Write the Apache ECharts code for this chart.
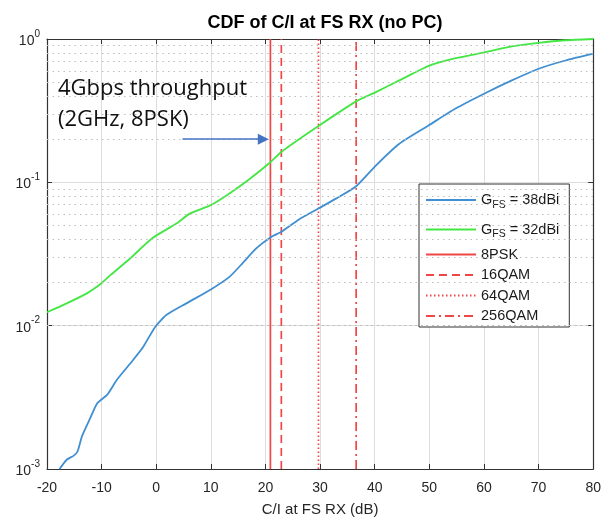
<!DOCTYPE html>
<html>
<head>
<meta charset="utf-8">
<script src="https://cdn.jsdelivr.net/npm/echarts@6/dist/echarts.min.js"></script>
<style>
  html, body { margin: 0; padding: 0; background: #ffffff; }
  #chart { width: 604px; height: 522px; }
</style>
</head>
<body>
<div id="chart"></div>
<script>
// C/I (dB) sample points and CDF values, FS antenna gain 38 dBi
const ci38 = [-17.7, -16.4, -15.1, -14.4, -13.6, -12.1, -10.8, -9.0, -7.2, -4.5, -2.4, -0.2, 1.9, 5.5, 10, 13.4, 15.5, 18.3, 20.9, 22.9, 26.2, 29.7, 32.9, 36.6, 40.2, 44.5, 49.9, 54.8, 60.3, 65.1, 70, 74.9, 80];
const cdf38 = [0.001, 0.00116, 0.00124, 0.00133, 0.00169, 0.00226, 0.00288, 0.00329, 0.00419, 0.0056, 0.0071, 0.0098, 0.0119, 0.0143, 0.0179, 0.0219, 0.0265, 0.0346, 0.0413, 0.0452, 0.0553, 0.0657, 0.077, 0.094, 0.131, 0.186, 0.25, 0.327, 0.42, 0.514, 0.62, 0.708, 0.79];

// C/I (dB) sample points and CDF values, FS antenna gain 32 dBi
const ci32 = [-20, -16.4, -12.7, -10.1, -8.4, -4.8, -0.8, 3.7, 6.2, 10, 13.4, 16.8, 20.9, 22.9, 29.7, 36.6, 40.2, 44.5, 49.9, 54.8, 60.3, 65.1, 70, 74.9, 80];
const cdf32 = [0.0124, 0.0143, 0.0168, 0.0197, 0.0225, 0.0294, 0.0406, 0.0516, 0.0607, 0.0693, 0.0836, 0.1034, 0.138, 0.163, 0.247, 0.367, 0.426, 0.514, 0.65, 0.735, 0.81, 0.887, 0.94, 0.98, 1.0];

// Required C/I per modulation (dB)
const modNames = ['8PSK', '16QAM', '64QAM', '256QAM'];
const modThresholds = [20.9, 22.9, 29.7, 36.6];

// Axis ranges
const xRange = [-20, 80];
const xStep = 10;
const yDecades = [0.001, 0.01, 0.1, 1];

const curveNames = ['G_FS = 38dBi', 'G_FS = 32dBi'];

const zip = (xs, ys) => xs.map((x, i) => [x, ys[i]]);

// dotted minor grid at 2..9 x 10^k
const minorGrid = [];
for (let i = 0; i < yDecades.length - 1; i++) {
  for (let m = 2; m <= 9; m++) minorGrid.push({ yAxis: m * yDecades[i] });
}

const dashStyles = ['solid', [8, 5], [1.5, 2.5], [9, 4, 2, 4]];
const red = '#ef4646';
const axisColor = '#333333';
const labelColor = '#262626';
const font = 'Liberation Sans, Arial, sans-serif';

const chart = echarts.init(document.getElementById('chart'), null, { renderer: 'canvas' });

const modSeries = modNames.map((name, i) => ({
  name: name,
  type: 'line',
  data: [[modThresholds[i], yDecades[0]], [modThresholds[i], yDecades[yDecades.length - 1]]],
  symbol: 'none',
  showSymbol: false,
  lineStyle: { color: red, width: 1.7, type: dashStyles[i] },
  itemStyle: { color: red },
  z: 3
}));

const yAxisBase = {
  type: 'log',
  logBase: 10,
  min: yDecades[0],
  max: yDecades[yDecades.length - 1],
  axisLine: { show: true, onZero: false, lineStyle: { color: axisColor, width: 1.2 } },
  axisTick: { show: true, inside: true, length: 5, lineStyle: { color: axisColor } },
  minorTick: { show: false },
  splitLine: { show: false }
};

const xAxisBase = {
  type: 'value',
  min: xRange[0],
  max: xRange[1],
  interval: xStep,
  axisLine: { show: true, onZero: false, lineStyle: { color: axisColor, width: 1.2 } },
  axisTick: { show: true, inside: true, length: 5, lineStyle: { color: axisColor } }
};

chart.setOption({
  animation: false,
  backgroundColor: '#ffffff',
  title: {
    text: 'CDF of C/I at FS RX (no PC)',
    left: 320,
    textAlign: 'center',
    top: 9,
    textStyle: { fontFamily: font, fontSize: 18, fontWeight: 'bold', color: '#000000' }
  },
  grid: { left: 47, right: 9, top: 39, bottom: 53, containLabel: false },
  xAxis: [
    Object.assign({}, xAxisBase, {
      position: 'bottom',
      name: 'C/I at FS RX (dB)',
      nameLocation: 'middle',
      nameGap: 33,
      nameTextStyle: { fontFamily: font, fontSize: 15, color: labelColor },
      axisLabel: { fontFamily: font, fontSize: 14, color: labelColor, margin: 12 },
      splitLine: { show: true, lineStyle: { color: '#dddddd', width: 1 } }
    }),
    Object.assign({}, xAxisBase, {
      position: 'top',
      axisLabel: { show: false },
      splitLine: { show: false }
    })
  ],
  yAxis: [
    Object.assign({}, yAxisBase, {
      position: 'left',
      axisLabel: {
        margin: 7,
        color: labelColor,
        formatter: v => '{b|10}{s|' + Math.round(Math.log10(v)) + '}',
        rich: {
          b: { fontFamily: font, fontSize: 14, color: labelColor, padding: [4, 0, 0, 0] },
          s: { fontFamily: font, fontSize: 10, color: labelColor, padding: [0, 0, 10, 0] }
        }
      },
      splitLine: { show: true, lineStyle: { color: '#dddddd', width: 1 } }
    }),
    Object.assign({}, yAxisBase, {
      position: 'right',
      axisLabel: { show: false }
    })
  ],
  legend: {
    orient: 'vertical',
    left: 419,
    top: 184,
    padding: [3.5, 10, 3, 6],
    itemGap: 4.5,
    itemWidth: 50,
    itemHeight: 10,
    backgroundColor: '#ffffff',
    borderColor: '#333333',
    borderWidth: 1,
    borderRadius: 0,
    itemStyle: { opacity: 0 },
    data: curveNames.concat(modNames),
    formatter: name => name.replace('G_FS', '{g|G}{s|FS}'),
    textStyle: {
      fontFamily: font,
      fontSize: 14.5,
      color: '#1a1a1a',
      lineHeight: 16,
      rich: {
        g: { fontFamily: font, fontSize: 14.5, color: '#1a1a1a', lineHeight: 25 },
        s: { fontFamily: font, fontSize: 10.5, color: '#1a1a1a', padding: [10, 0, 0, 0] }
      }
    }
  },
  series: [
    {
      name: '__minorGrid',
      type: 'line',
      data: [],
      silent: true,
      z: 1,
      markLine: {
        silent: true,
        symbol: ['none', 'none'],
        label: { show: false },
        lineStyle: { color: '#bdbdbd', width: 1, type: [1.5, 4] },
        data: minorGrid
      }
    },
    {
      name: curveNames[0],
      type: 'line',
      data: zip(ci38, cdf38),
      symbol: 'none',
      smooth: 0.2,
      lineStyle: { color: '#3f8fd2', width: 1.8 },
      itemStyle: { color: '#3f8fd2' },
      z: 4
    },
    {
      name: curveNames[1],
      type: 'line',
      data: zip(ci32, cdf32),
      symbol: 'none',
      smooth: 0.2,
      lineStyle: { color: '#44e644', width: 1.8 },
      itemStyle: { color: '#44e644' },
      z: 4
    }
  ].concat(modSeries).concat([
    {
      name: '__arrow',
      type: 'line',
      data: [],
      silent: true,
      z: 5,
      markLine: {
        silent: true,
        symbol: ['none', 'triangle'],
        symbolSize: [11, 11],
        label: { show: false },
        lineStyle: { color: '#4472c4', width: 1.5, type: 'solid' },
        data: [[{ coord: [4.8, 0.2] }, { coord: [19.6, 0.2] }]]
      }
    }
  ]),
  graphic: [
    {
      type: 'text',
      left: 58,
      top: 73,
      z: 10,
      style: {
        text: '4Gbps throughput\n(2GHz, 8PSK)',
        font: '22px "Open Sans", sans-serif',
        lineHeight: 31,
        fill: '#111111'
      }
    }
  ]
});
</script>
</body>
</html>
